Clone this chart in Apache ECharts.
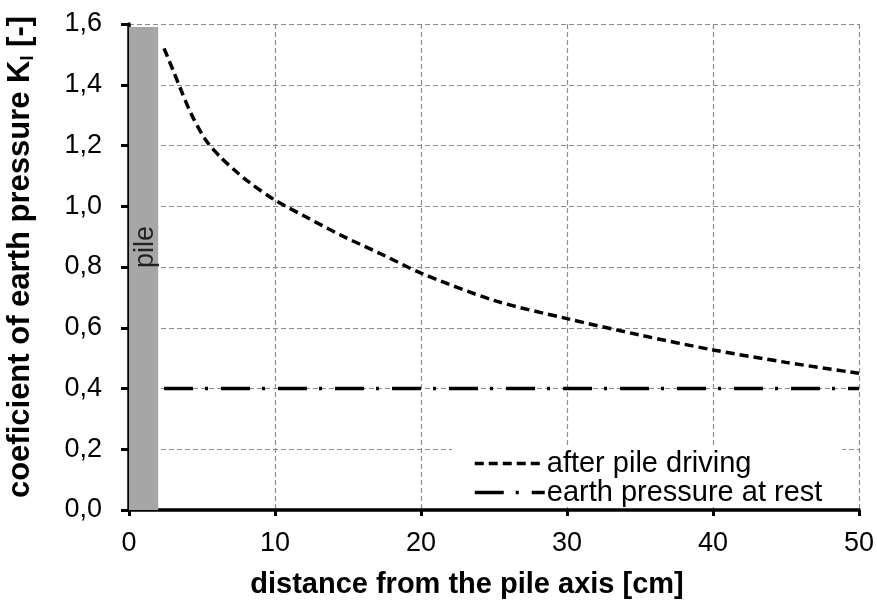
<!DOCTYPE html>
<html>
<head>
<meta charset="utf-8">
<script src="https://cdn.jsdelivr.net/npm/echarts@6/dist/echarts.min.js"></script>
<style>
html,body{margin:0;padding:0;background:#fff;}
#chart{width:877px;height:600px;}
</style>
</head>
<body>
<div id="chart"></div>
<script>
// distance from the pile axis [cm] and coefficient K_I after pile driving
const afterX = [2.4, 3, 3.5, 4.3, 5.3, 6.3, 7.2, 8.2, 10, 12, 14.5, 17.3, 20, 25, 30, 35, 40, 45, 50];
const afterY = [1.52, 1.45, 1.39, 1.30, 1.215, 1.16, 1.12, 1.08, 1.02, 0.968, 0.905, 0.842, 0.78, 0.69, 0.63, 0.576, 0.527, 0.486, 0.45];
// earth pressure at rest
const restX = [2.4, 50];
const restY = [0.40, 0.40];
// pile extent
const pileX = [0, 2];
const pileTop = 1.59;
const pileLabelPos = [1.1, 0.866];
const seriesNames = ['after pile driving', 'earth pressure at rest'];

const FONT = '"Liberation Sans", Arial, sans-serif';
const chart = echarts.init(document.getElementById('chart'), null, {renderer: 'canvas'});

const option = {
  backgroundColor: '#fff',
  animation: false,
  textStyle: {fontFamily: FONT},
  grid: {left: 129, right: 18, top: 24, bottom: 90, containLabel: false, outerBoundsMode: 'none'},
  xAxis: {
    type: 'value', min: 0, max: 50, interval: 10,
    name: 'distance from the pile axis [cm]',
    nameLocation: 'middle', nameGap: 60,
    nameTextStyle: {fontFamily: FONT, fontWeight: 'bold', fontSize: 29, color: '#000', padding: [0, 54, 0, 0]},
    axisLine: {show: true, onZero: false, lineStyle: {color: '#000', width: 3.5}},
    axisTick: {show: true, length: 6, lineStyle: {color: '#000', width: 3}},
    axisLabel: {fontFamily: FONT, fontSize: 27, color: '#000', margin: 20},
    splitLine: {show: true, lineStyle: {color: '#8c8c8c', width: 1.2, type: [5, 3]}}
  },
  yAxis: {
    type: 'value', min: 0, max: 1.6, interval: 0.2,
    name: '{t|coeficient of earth pressure K}{s|I}{t| [-]}',
    nameLocation: 'middle', nameGap: 92, nameRotate: 90,
    nameTextStyle: {
      fontFamily: FONT, fontWeight: 'bold', fontSize: 31, color: '#000', padding: [0, 0, 0, 20],
      rich: {
        t: {fontFamily: FONT, fontWeight: 'bold', fontSize: 31, color: '#000'},
        s: {fontFamily: FONT, fontWeight: 'bold', fontSize: 18, color: '#000', padding: [15, 0, 0, 0]}
      }
    },
    axisLine: {show: true, lineStyle: {color: '#000', width: 3.5}},
    axisTick: {show: true, length: 8, lineStyle: {color: '#000', width: 3}},
    axisLabel: {
      fontFamily: FONT, fontSize: 27, color: '#000', margin: 27,
      formatter: v => v.toFixed(1).replace('.', ',')
    },
    splitLine: {show: true, lineStyle: {color: '#8c8c8c', width: 1.2, type: [5, 3]}}
  },
  legend: {
    data: seriesNames,
    orient: 'vertical',
    left: 452, top: 448,
    backgroundColor: '#fff',
    padding: [1, 20, 0, 21],
    itemGap: 0,
    itemWidth: 70, itemHeight: 14,
    itemStyle: {color: 'rgba(0,0,0,0)', borderColor: 'rgba(0,0,0,0)', borderWidth: 0},
    lineStyle: {width: 3.5},
    textStyle: {fontFamily: FONT, fontSize: 29, color: '#000', padding: [0, 0, 0, -3]}
  },
  series: [
    {
      name: seriesNames[0], type: 'line', smooth: 0.3,
      symbol: 'none', z: 5,
      data: afterX.map((x, i) => [x, afterY[i]]),
      lineStyle: {color: '#000', width: 3.5, type: [9, 5]},
      itemStyle: {color: '#000'},
      markArea: {
        silent: true,
        itemStyle: {color: '#a6a6a6'},
        data: [[{coord: [pileX[0], 0]}, {coord: [pileX[1], pileTop]}]]
      }
    },
    {
      name: seriesNames[1], type: 'line',
      symbol: 'none', z: 5,
      data: restX.map((x, i) => [x, restY[i]]),
      lineStyle: {color: '#000', width: 3.5, type: [29, 12, 3, 13]},
      itemStyle: {color: '#000'}
    },
    {
      name: 'pileLabel', type: 'scatter', symbolSize: 0, silent: true, z: 6,
      data: [pileLabelPos],
      label: {
        show: true, position: 'inside', formatter: 'pile', rotate: 90,
        fontFamily: FONT, fontSize: 27, color: '#000'
      }
    }
  ]
};
chart.setOption(option);
</script>
</body>
</html>
